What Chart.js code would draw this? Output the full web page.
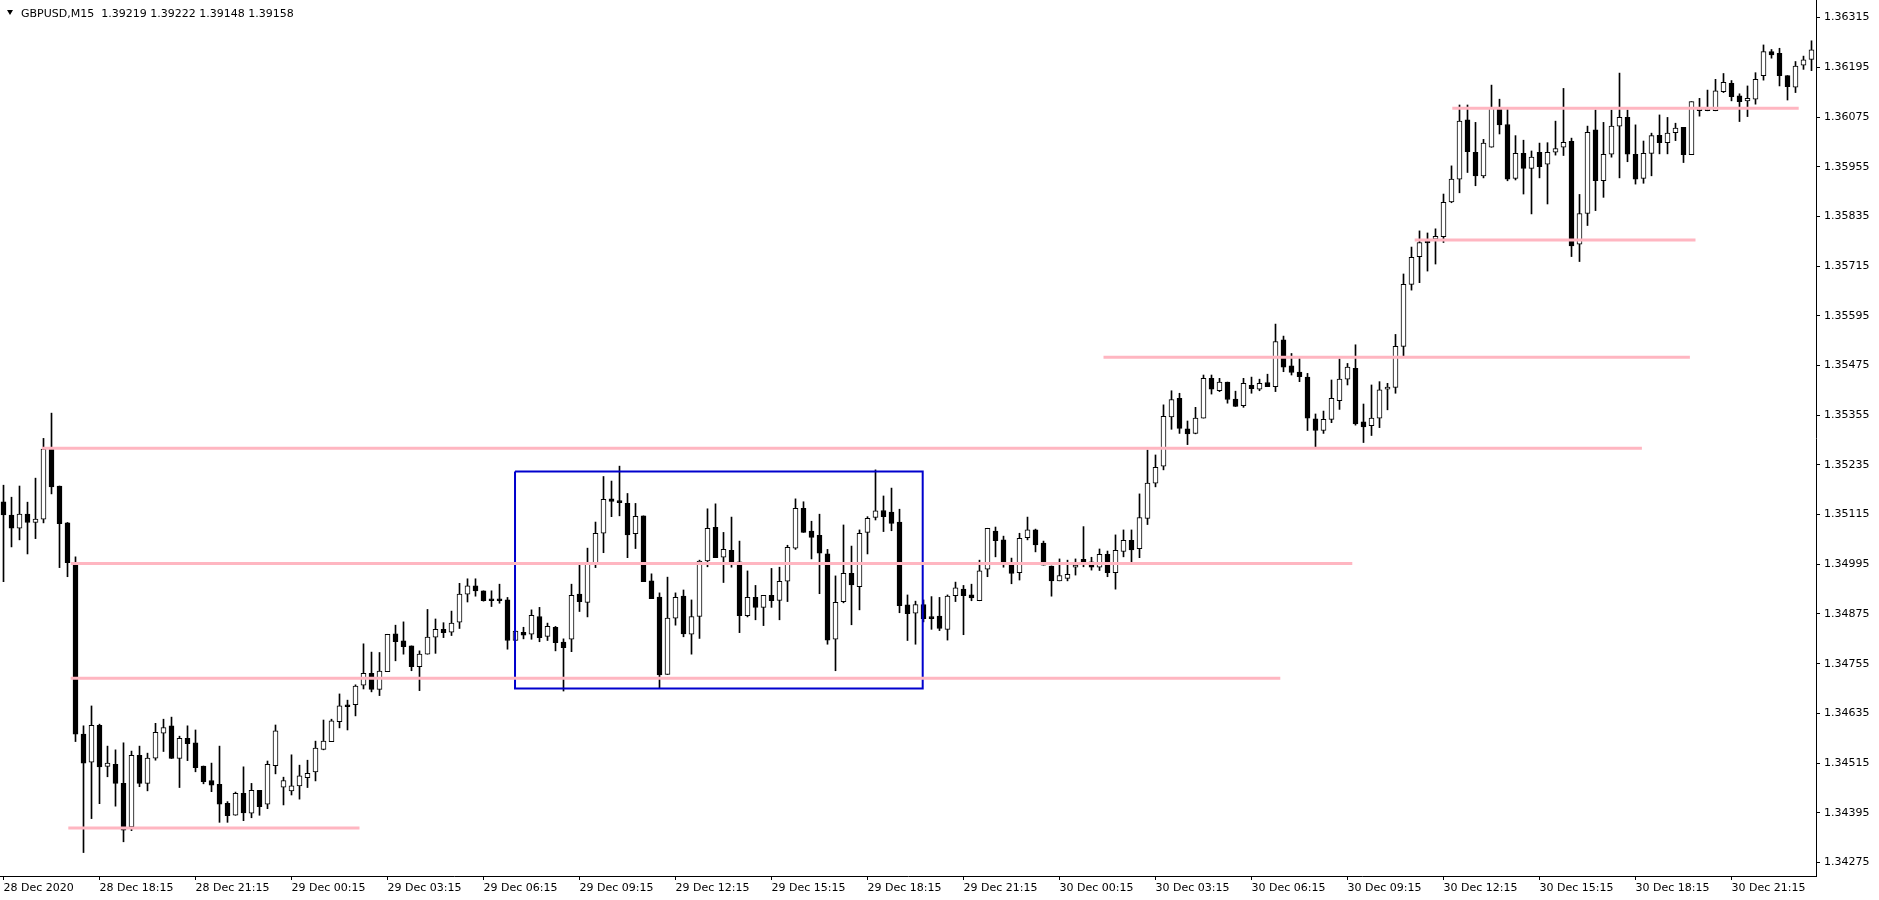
<!DOCTYPE html>
<html>
<head>
<meta charset="utf-8">
<title>GBPUSD M15</title>
<script src="https://cdn.jsdelivr.net/npm/chart.js@4.4.1/dist/chart.umd.min.js"></script>
<style>
  html, body { margin: 0; padding: 0; background: #fff; }
  #wrap { position: relative; width: 1879px; height: 900px; }
  #tri { position: absolute; left: 7px; top: 10px; width: 0; height: 0;
         border-left: 3px solid transparent; border-right: 3px solid transparent; border-top: 5px solid #000; }
  #title { position: absolute; left: 21px; top: 7px; font: 11px "DejaVu Sans"; line-height: 13px;
           white-space: pre; color: #000; }
</style>
</head>
<body>
<div id="wrap">
  <canvas id="priceChart" width="1879" height="900"></canvas>
  <div id="tri"></div>
  <div id="title">GBPUSD,M15  1.39219 1.39222 1.39148 1.39158</div>
</div>
<script>
// M15 bars, 28 Dec 15:15 .. 30 Dec 23:45
const opens = [1.35146,1.35114,1.35082,1.35116,1.35096,1.35104,1.35273,1.35184,1.35095,1.34997,1.34585,1.34517,1.34606,1.34507,1.34512,1.34466,1.34361,1.34534,1.34466,1.34527,
  1.34587,1.34605,1.34526,1.34575,1.34564,1.34508,1.34473,1.34464,1.34418,1.34389,1.34442,1.34394,1.34449,1.34416,1.34509,1.34457,1.34448,1.34460,1.34480,1.34494,
  1.34548,1.34567,1.34615,1.34655,1.34656,1.34703,1.34732,1.34693,1.34736,1.34827,1.34810,1.34798,1.34748,1.34778,1.34819,1.34838,1.34831,1.34855,1.34923,1.34943,
  1.34931,1.34910,1.34911,1.34909,1.34811,1.34831,1.34826,1.34869,1.34821,1.34843,1.34807,1.34814,1.34923,1.34903,1.34995,1.35070,1.35153,1.35148,1.35142,1.35069,
  1.35112,1.34955,1.34916,1.34729,1.34865,1.34918,1.34826,1.34869,1.35003,1.35084,1.35012,1.35029,1.35001,1.34871,1.34915,1.34891,1.34920,1.34908,1.34954,1.35034,
  1.35130,1.35075,1.35065,1.35020,1.34814,1.34905,1.34973,1.34941,1.35072,1.35108,1.35125,1.35121,1.35097,1.34897,1.34877,1.34898,1.34868,1.34870,1.34838,1.34919,
  1.34935,1.34921,1.34907,1.34983,1.35075,1.35054,1.34999,1.34975,1.35059,1.35078,1.35046,1.34991,1.34955,1.34961,1.34988,1.35007,1.35001,1.34988,1.35019,1.34975,
  1.35026,1.35053,1.35033,1.35106,1.35191,1.35232,1.35351,1.35396,1.35322,1.35311,1.35348,1.35444,1.35414,1.35435,1.35394,1.35378,1.35427,1.35418,1.35434,1.35424,
  1.35537,1.35474,1.35459,1.35447,1.35346,1.35318,1.35345,1.35390,1.35442,1.35468,1.35339,1.35330,1.35348,1.35418,1.35422,1.35521,1.35671,1.35738,1.35774,1.35780,
  1.35786,1.35870,1.35925,1.36068,1.35990,1.35933,1.36002,1.36096,1.36057,1.35927,1.35987,1.35951,1.35990,1.35961,1.35990,1.36002,1.36016,1.35768,1.35842,1.36044,
  1.35921,1.35985,1.36053,1.36074,1.35985,1.35927,1.35987,1.36031,1.36013,1.36037,1.36050,1.35984,1.36090,1.36090,1.36090,1.36136,1.36156,1.36126,1.36114,1.36118,
  1.36175,1.36233,1.36229,1.36175,1.36147,1.36200,1.36214];
const highs = [1.35186,1.35157,1.35184,1.35145,1.35203,1.35299,1.35360,1.35184,1.35096,1.35013,1.34605,1.34653,1.34609,1.34556,1.34547,1.34564,1.34544,1.34556,1.34539,1.34611,
  1.34621,1.34626,1.34580,1.34605,1.34595,1.34508,1.34515,1.34556,1.34422,1.34445,1.34506,1.34466,1.34449,1.34520,1.34607,1.34481,1.34535,1.34510,1.34522,1.34568,
  1.34619,1.34621,1.34682,1.34667,1.34704,1.34803,1.34783,1.34782,1.34826,1.34848,1.34856,1.34798,1.34786,1.34886,1.34863,1.34854,1.34882,1.34949,1.34960,1.34960,
  1.34931,1.34931,1.34947,1.34915,1.34834,1.34843,1.34885,1.34891,1.34853,1.34845,1.34815,1.34947,1.34995,1.35034,1.35097,1.35207,1.35196,1.35232,1.35166,1.35142,
  1.35112,1.34972,1.34926,1.34964,1.34926,1.34933,1.34909,1.35005,1.35129,1.35141,1.35072,1.35109,1.35051,1.34979,1.34944,1.34920,1.34985,1.34988,1.35041,1.35153,
  1.35146,1.35099,1.35116,1.35031,1.34967,1.35090,1.35039,1.35078,1.35110,1.35223,1.35160,1.35179,1.35128,1.34921,1.34906,1.34909,1.34917,1.34915,1.34921,1.34952,
  1.34944,1.34947,1.35005,1.35082,1.35085,1.35063,1.35010,1.35070,1.35109,1.35080,1.35051,1.34991,1.35008,1.35005,1.35008,1.35086,1.35012,1.35032,1.35027,1.35066,
  1.35078,1.35078,1.35165,1.35271,1.35259,1.35380,1.35414,1.35408,1.35341,1.35374,1.35452,1.35452,1.35444,1.35435,1.35413,1.35444,1.35447,1.35442,1.35454,1.35575,
  1.35546,1.35504,1.35492,1.35456,1.35358,1.35365,1.35440,1.35491,1.35480,1.35525,1.35382,1.35428,1.35436,1.35432,1.35550,1.35696,1.35761,1.35800,1.35795,1.35805,
  1.35889,1.35957,1.36104,1.36104,1.36062,1.36021,1.36152,1.36118,1.36096,1.36030,1.36019,1.35993,1.36012,1.36013,1.36065,1.36144,1.36024,1.35888,1.36053,1.36092,
  1.36062,1.36092,1.36181,1.36092,1.36056,1.36017,1.36036,1.36080,1.36074,1.36060,1.36050,1.36112,1.36120,1.36140,1.36166,1.36180,1.36163,1.36131,1.36150,1.36182,
  1.36249,1.36238,1.36241,1.36175,1.36209,1.36222,1.36259];
const lows = [1.34953,1.35037,1.35054,1.35020,1.35057,1.35095,1.35165,1.34987,1.34965,1.34567,1.34299,1.34381,1.34417,1.34482,1.34411,1.34325,1.34352,1.34458,1.34448,1.34522,
  1.34543,1.34526,1.34456,1.34521,1.34494,1.34465,1.34446,1.34372,1.34372,1.34389,1.34376,1.34383,1.34389,1.34405,1.34489,1.34414,1.34438,1.34428,1.34456,1.34472,
  1.34547,1.34567,1.34600,1.34595,1.34629,1.34694,1.34687,1.34678,1.34736,1.34762,1.34778,1.34738,1.34690,1.34778,1.34780,1.34818,1.34823,1.34840,1.34904,1.34918,
  1.34906,1.34893,1.34901,1.34790,1.34811,1.34815,1.34814,1.34808,1.34811,1.34786,1.34689,1.34784,1.34881,1.34868,1.34987,1.35023,1.35110,1.35112,1.35011,1.35033,
  1.34953,1.34912,1.34696,1.34729,1.34848,1.34820,1.34778,1.34816,1.34989,1.35011,1.34951,1.34988,1.34830,1.34868,1.34861,1.34847,1.34891,1.34861,1.34905,1.35031,
  1.35072,1.35008,1.34924,1.34802,1.34738,1.34902,1.34849,1.34885,1.35020,1.35102,1.35074,1.35076,1.34878,1.34811,1.34802,1.34856,1.34838,1.34835,1.34812,1.34905,
  1.34825,1.34907,1.34907,1.34965,1.35013,1.34988,1.34948,1.34957,1.35054,1.35025,1.34993,1.34918,1.34955,1.34955,1.34969,1.34989,1.34981,1.34980,1.34965,1.34935,
  1.35013,1.35000,1.35011,1.35091,1.35182,1.35223,1.35321,1.35311,1.35284,1.35310,1.35348,1.35406,1.35412,1.35384,1.35376,1.35374,1.35408,1.35414,1.35424,1.35412,
  1.35460,1.35452,1.35436,1.35318,1.35279,1.35311,1.35337,1.35369,1.35428,1.35331,1.35289,1.35306,1.35325,1.35368,1.35408,1.35498,1.35657,1.35675,1.35703,1.35720,
  1.35772,1.35868,1.35892,1.35941,1.35909,1.35928,1.36002,1.36034,1.35921,1.35923,1.35889,1.35841,1.35928,1.35865,1.35983,1.35982,1.35738,1.35726,1.35813,1.35849,
  1.35881,1.35978,1.35928,1.35967,1.35913,1.35915,1.35933,1.35986,1.35986,1.36018,1.35965,1.35984,1.36077,1.36090,1.36090,1.36134,1.36114,1.36064,1.36076,1.36106,
  1.36164,1.36217,1.36150,1.36116,1.36134,1.36190,1.36187];
const closes = [1.35114,1.35082,1.35116,1.35096,1.35104,1.35273,1.35182,1.35093,1.34999,1.34585,1.34515,1.34606,1.34506,1.34515,1.34466,1.34353,1.34534,1.34466,1.34527,1.34589,
  1.34601,1.34526,1.34575,1.34562,1.34504,1.34470,1.34462,1.34416,1.34388,1.34442,1.34395,1.34449,1.34410,1.34512,1.34593,1.34473,1.34460,1.34484,1.34490,1.34551,
  1.34568,1.34617,1.34653,1.34651,1.34701,1.34732,1.34693,1.34737,1.34826,1.34808,1.34796,1.34748,1.34778,1.34819,1.34838,1.34830,1.34853,1.34923,1.34943,1.34931,
  1.34907,1.34907,1.34907,1.34811,1.34834,1.34824,1.34872,1.34818,1.34845,1.34806,1.34794,1.34920,1.34905,1.34995,1.35070,1.35152,1.35147,1.35144,1.35066,1.35111,
  1.34953,1.34912,1.34728,1.34865,1.34915,1.34827,1.34869,1.35003,1.35082,1.35011,1.35031,1.35001,1.34871,1.34915,1.34891,1.34920,1.34907,1.34954,1.35036,1.35130,
  1.35072,1.35060,1.35022,1.34812,1.34903,1.34973,1.34945,1.35070,1.35106,1.35124,1.35110,1.35094,1.34895,1.34876,1.34898,1.34864,1.34864,1.34840,1.34918,1.34938,
  1.34919,1.34914,1.34979,1.35082,1.35052,1.34999,1.34973,1.35058,1.35078,1.35042,1.34993,1.34955,1.34968,1.34971,1.34993,1.34999,1.34988,1.35019,1.34975,1.35029,
  1.35053,1.35030,1.35108,1.35191,1.35229,1.35352,1.35393,1.35323,1.35310,1.35348,1.35444,1.35418,1.35435,1.35393,1.35376,1.35432,1.35419,1.35432,1.35424,1.35533,
  1.35471,1.35458,1.35448,1.35348,1.35318,1.35345,1.35396,1.35442,1.35471,1.35334,1.35327,1.35348,1.35416,1.35422,1.35521,1.35671,1.35736,1.35772,1.35771,1.35787,
  1.35869,1.35925,1.36065,1.35991,1.35933,1.36012,1.36096,1.36056,1.35925,1.35987,1.35951,1.35978,1.35955,1.35990,1.35999,1.36014,1.35764,1.35842,1.36038,1.35921,
  1.35985,1.36053,1.36074,1.35985,1.35925,1.35987,1.36030,1.36013,1.36036,1.36048,1.35984,1.36112,1.36094,1.36094,1.36138,1.36159,1.36124,1.36112,1.36120,1.36166,
  1.36233,1.36225,1.36175,1.36148,1.36198,1.36213,1.36237];

// time axis: a label every 12 bars
const xTickIdx = [0,12,24,36,48,60,72,84,96,108,120,132,144,156,168,180,192,204,216];
const xTickLabels = ["28 Dec 2020","28 Dec 18:15","28 Dec 21:15","29 Dec 00:15","29 Dec 03:15","29 Dec 06:15","29 Dec 09:15",
  "29 Dec 12:15","29 Dec 15:15","29 Dec 18:15","29 Dec 21:15","30 Dec 00:15","30 Dec 03:15","30 Dec 06:15","30 Dec 09:15",
  "30 Dec 12:15","30 Dec 15:15","30 Dec 18:15","30 Dec 21:15"];
const yTickValues = [1.34275,1.34395,1.34515,1.34635,1.34755,1.34875,1.34995,1.35115,1.35235,1.35355,1.35475,1.35595,1.35715,1.35835,1.35955,1.36075,1.36195,1.36315];

// horizontal levels (price, first bar, last bar) and the range box
const levelPrices = [1.35275, 1.34997, 1.34720, 1.34358, 1.35495, 1.35778, 1.36096];
const levelFrom = [4.8, 8.4, 8.4, 8.1, 137.5, 176.4, 181.1];
const levelTo = [204.8, 168.6, 159.6, 44.5, 210.8, 211.5, 224.4];
const boxBars = [63.94, 114.9];
const boxPrices = [1.35219, 1.34695];

const yMin = 1.342424, yMax = 1.363575;

function buildDatasets() {
  const bodies = opens.map((o, i) => ({ x: i, y: [Math.min(o, closes[i]), Math.max(o, closes[i])] }));
  const wicks = opens.map((o, i) => ({ x: i, y: [Math.min(lows[i], o, closes[i]), Math.max(highs[i], o, closes[i])] }));
  const bodyColors = opens.map((o, i) => (closes[i] > o ? "#ffffff" : "#000000"));

  const sets = [
    {
      type: "bar", data: bodies, backgroundColor: bodyColors, borderColor: "#000000", borderWidth: 1,
      borderSkipped: false, barThickness: 5, minBarLength: 2, grouped: false, order: 1,
    },
    {
      type: "bar", data: wicks, backgroundColor: "#000000", borderWidth: 0,
      barThickness: 1, grouped: false, order: 2,
    },
  ];

  levelPrices.forEach((p, i) => {
    sets.push({
      type: "line", data: [{ x: levelFrom[i], y: p }, { x: levelTo[i], y: p }],
      borderColor: "#ffb6c1", borderWidth: 3, pointRadius: 0, order: 0,
    });
  });

  sets.push({
    type: "line",
    data: [
      { x: boxBars[0], y: boxPrices[0] }, { x: boxBars[1], y: boxPrices[0] },
      { x: boxBars[1], y: boxPrices[1] }, { x: boxBars[0], y: boxPrices[1] },
      { x: boxBars[0], y: boxPrices[0] },
    ],
    borderColor: "#0000cd", borderWidth: 2, pointRadius: 0, borderJoinStyle: "miter", order: 0,
  });
  return sets;
}

function initializeChart() {
  const ctx = document.getElementById("priceChart").getContext("2d");
  const tickFont = { family: "DejaVu Sans", size: 11 };
  new Chart(ctx, {
    type: "bar",
    data: { datasets: buildDatasets() },
    options: {
      responsive: false,
      animation: false,
      events: [],
      layout: { padding: 0, autoPadding: false },
      plugins: { legend: { display: false }, tooltip: { enabled: false }, title: { display: false } },
      scales: {
        x: {
          type: "linear", position: "bottom", offset: false,
          min: -0.4375, max: 226.5625,
          grid: { display: true, drawOnChartArea: false, drawTicks: true, tickLength: 4, color: "#000", offset: false },
          border: { display: true, color: "#000", width: 1 },
          ticks: {
            autoSkip: false, maxRotation: 0, align: "start", padding: 2, color: "#000", font: tickFont,
            callback: (v) => xTickLabels[xTickIdx.indexOf(v)],
          },
          afterBuildTicks: (scale) => { scale.ticks = xTickIdx.map((v) => ({ value: v })); },
          afterFit: (scale) => { scale.height = 24; scale.paddingLeft = 0; scale.paddingRight = 0; },
        },
        y: {
          type: "linear", position: "right", min: yMin, max: yMax, beginAtZero: false,
          grid: { display: true, drawOnChartArea: false, drawTicks: true, tickLength: 4, color: "#000" },
          border: { display: true, color: "#000", width: 1 },
          ticks: { padding: 4, color: "#000", font: tickFont, callback: (v) => v.toFixed(5) },
          afterBuildTicks: (scale) => { scale.ticks = yTickValues.map((v) => ({ value: v })); },
          afterFit: (scale) => { scale.width = 63; scale.paddingTop = 0; scale.paddingBottom = 0; },
        },
      },
    },
  });
}

initializeChart();
</script>
</body>
</html>
